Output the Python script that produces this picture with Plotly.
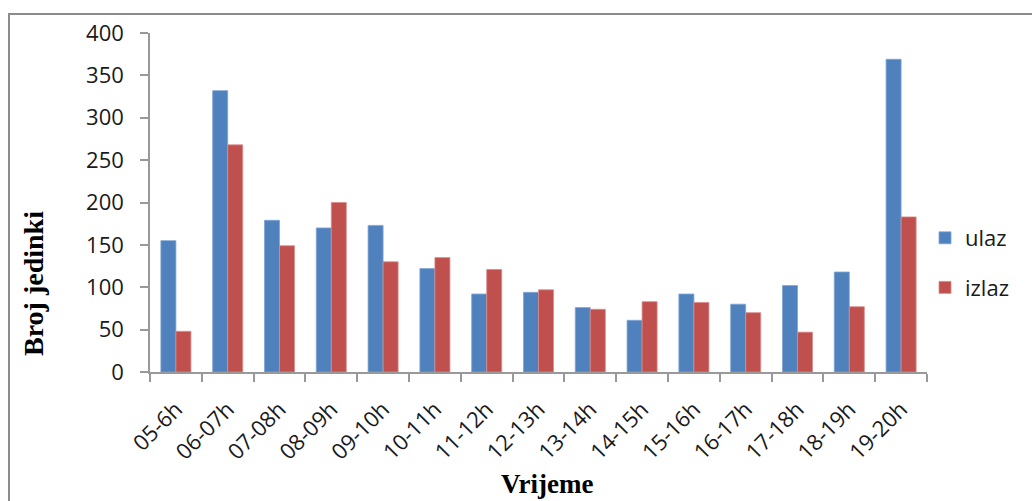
import plotly.graph_objects as go

categories = ["05-6h", "06-07h", "07-08h", "08-09h", "09-10h", "10-11h", "11-12h",
              "12-13h", "13-14h", "14-15h", "15-16h", "16-17h", "17-18h", "18-19h", "19-20h"]
ulaz = [155, 332, 179, 170, 173, 122, 92, 94, 76, 61, 92, 80, 102, 118, 369]
izlaz = [48, 268, 149, 200, 130, 135, 121, 97, 74, 83, 82, 70, 47, 77, 183]
y_ticks = [0, 50, 100, 150, 200, 250, 300, 350, 400]

W, H = 1032, 501
L, R, T, B = 150, 105, 33, 129
pw, ph = W - L - R, H - T - B

def px(x):
    return (x - L) / pw

def py(y):
    return (H - B - y) / ph

fig = go.Figure()
fig.add_trace(go.Bar(x=categories, y=ulaz, name="ulaz", legendgroup="a",
                     marker=dict(color="#4F81BD", line=dict(color="#7FA5D6", width=0.8))))
fig.add_trace(go.Bar(x=categories, y=izlaz, name="izlaz", legendgroup="b",
                     marker=dict(color="#C0504D", line=dict(color="#D98C8A", width=0.8))))

tick_font = dict(family="Open Sans", size=22, color="#1a1a1a")

fig.update_layout(
    width=W, height=H,
    margin=dict(l=L, r=R, t=T, b=B, autoexpand=False),
    paper_bgcolor="white", plot_bgcolor="white",
    barmode="group", bargap=0.42, bargroupgap=0,
    showlegend=True,
    legend=dict(x=px(925), y=py(217), xanchor="left", yanchor="top",
                font=dict(family="Open Sans", size=22, color="#1a1a1a"),
                tracegroupgap=18, itemwidth=30, bgcolor="rgba(0,0,0,0)"),
    xaxis=dict(showline=True, linecolor="#999999", linewidth=1.5,
               ticks="outside", ticklen=8, tickcolor="#999999", tickwidth=1.5,
               tickson="boundaries", tickangle=-45, tickfont=tick_font,
               showgrid=False, zeroline=False, ticklabelstandoff=14),
    yaxis=dict(range=[0, 400], tickvals=y_ticks, showline=True, linecolor="#999999",
               linewidth=1.5, ticks="outside", ticklen=8, tickcolor="#999999",
               tickwidth=1.5, tickfont=tick_font, showgrid=False, zeroline=False,
               ticklabelstandoff=12),
    annotations=[
        dict(text="<b>Broj jedinki</b>", xref="paper", yref="paper",
             x=px(33), y=py(284), xanchor="center", yanchor="middle",
             textangle=-90, showarrow=False,
             font=dict(family="Liberation Serif", size=28, color="black")),
        dict(text="<b>Vrijeme</b>", xref="paper", yref="paper",
             x=px(547), y=py(484), xanchor="center", yanchor="middle",
             showarrow=False,
             font=dict(family="Liberation Serif", size=27, color="black")),
    ],
    shapes=[
        dict(type="rect", xref="paper", yref="paper",
             x0=px(9), x1=px(1045), y0=py(515), y1=py(14),
             line=dict(color="#8c8c8c", width=2), layer="below"),
    ],
)

fig.write_html("out.html", config={"displayModeBar": False},
               post_script="document.body.style.margin='0';")
